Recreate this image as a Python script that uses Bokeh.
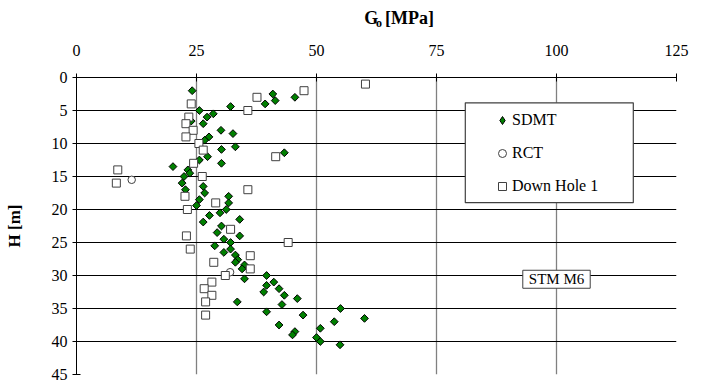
import math
from bokeh.plotting import figure
from bokeh.layouts import column
from bokeh.models import (Range1d, FixedTicker, Label, BoxAnnotation, Legend,
                          LegendItem, ColumnDataSource, Plot)
from bokeh.embed import file_html
from bokeh.resources import INLINE

# ---------------- data ----------------
x_ticks = [0, 25, 50, 75, 100, 125]
y_ticks = [0, 5, 10, 15, 20, 25, 30, 35, 40, 45]

sdmt_g = [24.1, 40.9, 45.5, 41.4, 39.3, 32.1, 25.6, 28.5, 27.2, 23.9, 26.4, 30.1,
          32.6, 27.6, 26.7, 33.1, 30.2, 43.3, 27.3, 25.6, 30.2, 20.1, 23.2, 23.6,
          22.4, 22.0, 26.4, 22.7, 26.7, 31.7, 25.6, 31.7, 25.0, 31.2, 29.9, 27.7,
          34.0, 26.4, 30.2, 29.3, 34.0, 30.7, 32.1, 28.8, 32.1, 30.7, 33.1, 33.6,
          33.1, 35.0, 34.5, 39.6, 35.0, 41.1, 39.6, 42.2, 39.0, 43.3, 46.0, 33.5,
          42.8, 55.0, 39.6, 47.2, 60.0, 53.7, 42.2, 50.8, 45.5, 45.0, 50.0, 50.8,
          54.9]
sdmt_h = [2.0, 2.5, 3.0, 3.5, 4.0, 4.4, 5.0, 5.5, 6.0, 6.6, 7.0, 8.0,
          8.5, 9.0, 9.5, 10.5, 10.9, 11.4, 12.0, 12.5, 13.0, 13.5, 14.0, 14.5,
          15.0, 16.0, 16.5, 17.0, 17.5, 18.0, 18.5, 19.0, 19.4, 20.0, 20.5, 20.9,
          21.5, 21.9, 22.5, 23.5, 24.0, 24.5, 25.0, 25.5, 26.0, 26.5, 26.9, 27.6,
          28.0, 28.4, 29.0, 30.0, 30.5, 31.0, 31.5, 32.0, 32.5, 33.0, 33.5, 34.0,
          34.4, 35.0, 35.5, 36.0, 36.5, 37.0, 37.5, 38.0, 38.5, 39.0, 39.4, 40.0,
          40.5]

rct_g = [11.5, 32.0]
rct_h = [15.5, 29.5]

dh_g = [60.2, 47.4, 37.6, 23.9, 35.7, 23.4, 22.8, 24.3, 22.8, 25.5, 26.4, 41.5,
        24.4, 8.6, 26.2, 8.3, 35.7, 22.6, 29.0, 23.1, 32.1, 22.9, 44.1, 23.7,
        36.2, 28.6, 36.2, 31.0, 28.2, 26.6, 28.2, 26.9, 26.9]
dh_h = [1, 2, 3, 4, 5, 6, 7, 8, 9, 10, 11, 12,
        13, 14, 15, 16, 17, 18, 19, 20, 23, 24, 25, 26,
        27, 28, 29, 30, 31, 32, 33, 34, 36]

series_names = ["SDMT", "RCT", "Down Hole 1"]
FONT = "Liberation Serif"
TITLE_H = 30

# ---------------- title strip (G_o [MPa]) ----------------
tp = Plot(width=708, height=TITLE_H, x_range=Range1d(0, 708),
          y_range=Range1d(TITLE_H, 0), min_border=0, toolbar_location=None,
          outline_line_color=None, output_backend="svg", title=None,
          background_fill_color="white", border_fill_color="white")
tp.add_layout(Label(x=339.5, y=17, text="G", text_align="left",
                    text_baseline="middle", text_font=FONT,
                    text_font_size="18px", text_font_style="bold",
                    text_color="black"))
tp.add_layout(Label(x=353.5, y=22, text="o", text_align="left",
                    text_baseline="middle", text_font=FONT,
                    text_font_size="12px", text_font_style="bold",
                    text_color="black"))
tp.add_layout(Label(x=364, y=17, text="[MPa]", text_align="left",
                    text_baseline="middle", text_font=FONT,
                    text_font_size="18px", text_font_style="bold",
                    text_color="black"))

# ---------------- main figure ----------------
p = figure(width=708, height=381 - TITLE_H, output_backend="svg",
           toolbar_location=None,
           x_range=Range1d(0, 125), y_range=Range1d(45, 0),
           x_axis_location="above", y_axis_location="left",
           min_border_left=76, min_border_right=32,
           min_border_top=77 - TITLE_H, min_border_bottom=7,
           background_fill_color="white", border_fill_color="white")
p.outline_line_color = None

# grid
p.xgrid.ticker = FixedTicker(ticks=x_ticks)
p.xgrid.grid_line_color = "#808080"
p.xgrid.grid_line_width = 1.3
p.ygrid.ticker = FixedTicker(ticks=y_ticks)
p.ygrid.grid_line_color = "black"
p.ygrid.grid_line_width = 1

# axes
for ax, ticks in ((p.xaxis[0], x_ticks), (p.yaxis[0], y_ticks)):
    ax.ticker = FixedTicker(ticks=ticks)
    ax.major_tick_in = 4
    ax.major_tick_out = 4
    ax.minor_tick_in = 0
    ax.minor_tick_out = 0
    ax.axis_line_color = "black"
    ax.major_tick_line_color = "black"
    ax.major_label_text_font = FONT
    ax.major_label_text_font_size = "16px"
    ax.major_label_text_color = "black"

p.xaxis[0].major_label_standoff = 18
p.yaxis[0].major_label_standoff = 5
p.yaxis[0].axis_label = "H [m]"
p.yaxis[0].axis_label_text_font = FONT
p.yaxis[0].axis_label_text_font_size = "17px"
p.yaxis[0].axis_label_text_font_style = "bold"
p.yaxis[0].axis_label_text_color = "black"
p.yaxis[0].axis_label_standoff = 25

# ---------------- data marks ----------------
r1 = p.scatter(sdmt_g, sdmt_h, marker="square", angle=math.pi / 4, size=5.5,
               fill_color="#008000", line_color="black", line_width=1)
r2 = p.scatter(rct_g, rct_h, marker="circle", size=7.5,
               fill_color="white", line_color="#404040", line_width=1)
r3 = p.scatter(dh_g, dh_h, marker="square", size=8,
               fill_color="white", line_color="#404040", line_width=1)

# legend proxy for the diamond shape (legend markers are drawn unrotated);
# a single NaN point, so nothing is drawn in the plot area
proxy = ColumnDataSource(data=dict(x=[float("nan")], y=[float("nan")]))
r1_leg = p.scatter("x", "y", source=proxy, marker="diamond", size=8,
                   fill_color="#008000", line_color="black", line_width=1)

# legend frame
box = BoxAnnotation(left=81.0, right=116.0, top=3.83, bottom=18.96,
                    fill_color="white", fill_alpha=1.0,
                    line_color="#404040", line_width=1.2, line_alpha=1.0)
p.add_layout(box)

legend = Legend(items=[LegendItem(label=series_names[0], renderers=[r1_leg]),
                       LegendItem(label=series_names[1], renderers=[r2]),
                       LegendItem(label=series_names[2], renderers=[r3])],
                location=(416, 178), orientation="vertical",
                padding=0, margin=0, spacing=13,
                glyph_width=20, glyph_height=20, label_height=20,
                label_standoff=0,
                label_text_font=FONT, label_text_font_size="16px",
                label_text_color="black",
                background_fill_alpha=0, border_line_alpha=0)
p.add_layout(legend)

# STM M6 tag
p.add_layout(Label(x=100, y=30.57, text="STM M6", text_align="center",
                   text_baseline="middle", text_font=FONT,
                   text_font_size="15px", text_color="black",
                   background_fill_color="white", background_fill_alpha=1.0,
                   border_line_color="#404040", border_line_width=1,
                   padding=(6, 1)))

layout = column(tp, p, spacing=0)
open("out.html", "w").write(file_html(layout, INLINE))
